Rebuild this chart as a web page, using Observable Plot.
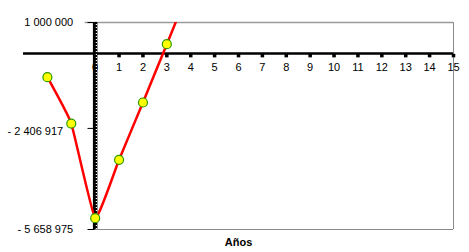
<!DOCTYPE html>
<html><head><meta charset="utf-8">
<script src="https://cdn.jsdelivr.net/npm/d3@7"></script>
<script src="https://cdn.jsdelivr.net/npm/@observablehq/plot@0.6"></script>
<style>body{margin:0;background:#fff;font-family:"Liberation Sans",Arial,sans-serif}</style>
</head><body><div id="chart"></div>
<script>
const years = [-2, -1, 0, 1, 2, 3, 4];
const values = [-760000, -2250000, -5295000, -3416000, -1573000, 302000, 2200000];
const yTicks = [1000000, -2406917, -5658975];
const yTickLabels = ["1 000 000", "- 2 406 917", "- 5 658 975"];
const xTicks = d3.range(0, 16);
const xLabel = "Años";

const data = years.map((x, i) => ({x, y: values[i]}));
const shown = data.filter(d => d.y <= 1000000);
const yt = yTicks.map((v, i) => ({v, label: yTickLabels[i]}));
const ytOuter = yt.filter((d, i) => i !== 1);
const ytMid = yt.filter((d, i) => i === 1);
const ymin = -5658975, ymax = 1000000;

const chart = Plot.plot({
  width: 469, height: 252,
  marginLeft: 23, marginRight: 16, marginTop: 22, marginBottom: 23,
  style: {fontFamily: "Liberation Sans, Arial, sans-serif", fontSize: "11px", background: "#fff"},
  x: {domain: [-3, 15], axis: null},
  y: {domain: [ymin, ymax], axis: null},
  marks: [
    Plot.ruleY([ymax], {x1: -0.42, x2: 15, stroke: "#9a9a9a", strokeWidth: 1.5}),
    Plot.ruleY([ymin], {x1: -0.15, x2: 15, stroke: "#8a8a8a", strokeWidth: 1.2}),
    Plot.ruleX([15], {y1: ymin, y2: ymax, stroke: "#8a8a8a", strokeWidth: 1}),
    Plot.ruleY(yt, {y: "v", x1: -0.3, x2: 0, stroke: "#000", strokeWidth: 1}),
    Plot.text(ytOuter, {y: "v", x: 0, text: "label", dx: -22, textAnchor: "end", fill: "#000", fontSize: 11}),
    Plot.text(ytMid, {y: "v", x: 0, text: "label", dx: -32, dy: 3, textAnchor: "end", fill: "#000", fontSize: 11}),
    Plot.ruleY([0], {x1: -3, x2: 15, stroke: "#000", strokeWidth: 2.5}),
    Plot.dot(xTicks.filter(d => d > 0), {x: d => d, y: 0, symbol: "square", r: 2, fill: "#000", dy: 2}),
    Plot.text(xTicks, {x: d => d, y: 0, text: d => String(d), dy: 14, fill: "#000", fontSize: 11}),
    Plot.ruleX([0], {y1: ymin, y2: ymax, stroke: "#000", strokeWidth: 4.5}),
    Plot.ruleX([0], {y1: ymin, y2: ymax, stroke: "#fff", strokeWidth: 1.2, strokeDasharray: "1,2", dx: 1.2}),
    Plot.line(data, {x: "x", y: "y", curve: "cardinal", tension: 0.65, stroke: "#ff0000", strokeWidth: 2.5, clip: true}),
    Plot.dot(shown, {x: "x", y: "y", r: 4.5, fill: "#ffff00", stroke: "#2e9900", strokeWidth: 1.2}),
    Plot.text([xLabel], {x: 6, y: ymin, text: d => d, dy: 13, fontWeight: "bold", fontSize: 11, fill: "#000"})
  ]
});
document.getElementById("chart").append(chart);
</script></body></html>
